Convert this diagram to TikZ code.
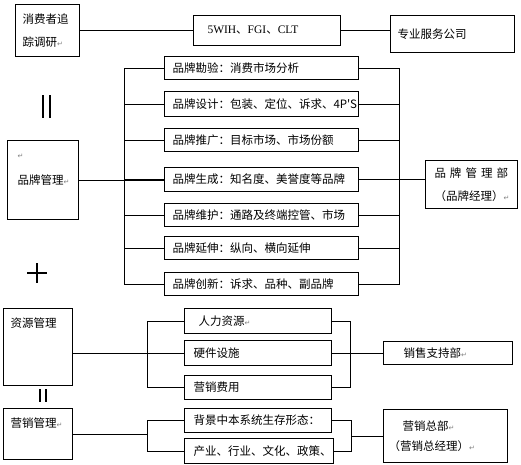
\documentclass[tikz,border=0pt]{standalone}
\usepackage{fontspec}
\setmainfont{Liberation Serif}
\newfontfamily\cjk{Noto Sans CJK SC}
\newfontfamily\symf{DejaVu Sans}
\newcommand\pmk{{\symf\color{gray}\fontsize{7}{7}\selectfont ↵}}

\begin{document}
\begin{tikzpicture}[x=1pt, y=-1pt, line width=1pt,
    box/.style={draw, anchor=north west, align=left, inner ysep=0pt,
      font=\cjk\fontsize{11.5}{14}\selectfont},
    txt/.style={anchor=west, inner sep=0pt, font=\cjk\fontsize{11.5}{14}\selectfont}]
    \useasboundingbox (0,0) rectangle (521,464);

    \node[box, minimum width=64pt, minimum height=52pt, text width=50pt, inner xsep=7pt,
      font=\cjk\fontsize{11.5}{23}\selectfont] (track) at (15,4) {消费者追\\踪调研\pmk};
    \node[box, minimum width=147pt, minimum height=30pt, text width=119pt, inner xsep=14pt]
      (fgi) at (193,15) {{\rmfamily 5WIH}、{\rmfamily FGI}、{\rmfamily CLT}};
    \node[box, minimum width=124pt, minimum height=37pt, text width=110pt, inner xsep=7pt]
      (agency) at (390,15) {专业服务公司};

    \draw (track.east) -- (fgi.west);
    \draw (fgi.east) -- (fgi.east -| agency.west);

    \node[box, minimum width=71pt, minimum height=79pt, text width=55pt, inner xsep=8pt]
      (brand) at (7,140) {\hspace{2pt}品牌管理\pmk};
    \node[txt] (brandmk) at (17,156) {\pmk};

    \node[box, minimum width=194pt, minimum height=23pt, text width=178pt, inner xsep=8pt]
      (b1) at (164,56) {品牌勘验：消费市场分析};
    \node[box, minimum width=194pt, minimum height=25pt, text width=178pt, inner xsep=8pt]
      (b2) at (164,91) {品牌设计：包装、定位、诉求、4P'S};
    \node[box, minimum width=194pt, minimum height=23pt, text width=178pt, inner xsep=8pt]
      (b3) at (164,128) {品牌推广：目标市场、市场份额};
    \node[box, minimum width=194pt, minimum height=24pt, text width=178pt, inner xsep=8pt]
      (b4) at (164,167) {品牌生成：知名度、美誉度等品牌};
    \node[box, minimum width=194pt, minimum height=23pt, text width=178pt, inner xsep=8pt]
      (b5) at (164,203) {品牌维护：通路及终端控管、市场};
    \node[box, minimum width=194pt, minimum height=23pt, text width=178pt, inner xsep=8pt]
      (b6) at (164,236) {品牌延伸：纵向、横向延伸};
    \node[box, minimum width=194pt, minimum height=23pt, text width=178pt, inner xsep=8pt]
      (b7) at (164,272) {品牌创新：诉求、品种、副品牌};

    \node[box, minimum width=92pt, minimum height=48pt, text width=74pt, inner xsep=9pt,
      font=\cjk\fontsize{11.5}{23}\selectfont] (dept) at (425,160)
      {品\hspace{4pt}牌\hspace{4pt}管\hspace{4pt}理\hspace{4pt}部\\（品牌经理）\pmk};

    \coordinate (bl) at (124,0);
    \coordinate (br) at (399,0);

    \draw (b1.west) -- (b1.west -| bl) -- (b7.west -| bl) -- (b7.west);
    \draw (b1.east) -- (b1.east -| br) -- (b7.east -| br) -- (b7.east);
    \foreach \i in {2,...,6} {
      \draw (b\i.west) -- (b\i.west -| bl);
      \draw (b\i.east) -- (b\i.east -| br);
    }
    \draw (brand.east) -- (brand.east -| b4.west);
    \draw (b4.east) -- (b4.east -| dept.west);

    \draw[line width=2pt] (43,95) -- (43,118) (50,95) -- (50,118);
    \draw[line width=1.6pt] (27,273) -- (47,273) (37,263) -- (37,283);
    \draw[line width=2pt] (40,389) -- (40,402) (46,389) -- (46,402);

    \node[box, minimum width=69pt, minimum height=77pt] (res) at (3,308) {};
    \node[txt] (restxt) at (10,323) {资源管理};

    \node[box, minimum width=147pt, minimum height=25pt, text width=119pt, inner xsep=14pt]
      (hr) at (184,308) {人力资源\pmk};
    \node[box, minimum width=147pt, minimum height=25pt, text width=129pt, inner xsep=9pt]
      (hw) at (184,340) {硬件设施};
    \node[box, minimum width=147pt, minimum height=24pt, text width=129pt, inner xsep=9pt]
      (fee) at (184,375) {营销费用};
    \node[box, minimum width=129pt, minimum height=23pt, text width=89pt, inner xsep=20pt]
      (supp) at (383,341) {销售支持部\pmk};

    \coordinate (rl) at (147,0);
    \coordinate (rr) at (350,0);

    \draw (hr.west) -- (hr.west -| rl) -- (fee.west -| rl) -- (fee.west);
    \draw (hr.east) -- (hr.east -| rr) -- (fee.east -| rr) -- (fee.east);
    \draw (res.east |- hw.west) -- (hw.west);
    \draw (hw.east) -- (hw.east -| supp.west);

    \node[box, minimum width=69pt, minimum height=51pt] (mkt) at (3,408) {};
    \node[txt] (mkttxt) at (10,423) {营销管理\pmk};

    \node[box, minimum width=147pt, minimum height=24pt, text width=129pt, inner xsep=9pt]
      (bg) at (184,408) {背景中本系统生存形态：};
    \node[box, minimum width=149pt, minimum height=25pt, text width=131pt, inner xsep=9pt]
      (ind) at (184,438) {产业、行业、文化、政策、};
    \node[box, minimum width=124pt, minimum height=53pt, text width=114pt, inner xsep=5pt,
      font=\cjk\fontsize{11.5}{20}\selectfont] (hq) at (383,409)
      {\hspace{14pt}营销总部\pmk\\（营销总经理）\pmk};

    \coordinate (ml) at (147,0);
    \coordinate (mr) at (351,0);

    \draw (bg.west) -- (bg.west -| ml) -- (ind.west -| ml) -- (ind.west);
    \draw (bg.east) -- (bg.east -| mr) -- (ind.east -| mr) -- (ind.east);
    \draw (mkt.east) -- (mkt.east -| ml);
    \draw (hq.west -| mr) -- (hq.west);
  \end{tikzpicture}
\end{document}
